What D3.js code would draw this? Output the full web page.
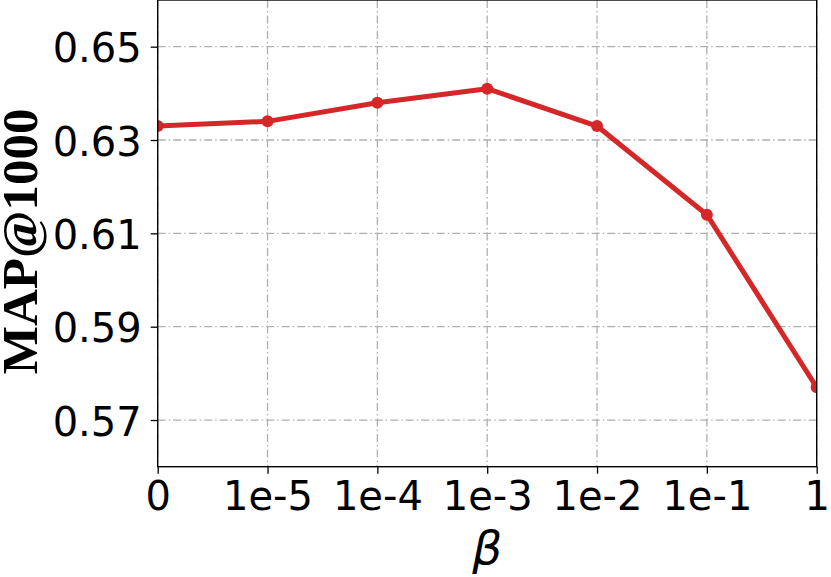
<!DOCTYPE html>
<html><head><meta charset="utf-8">
<script src="https://cdn.jsdelivr.net/npm/d3@7"></script>
<style>
html,body{margin:0;padding:0;background:#fff;}
svg{display:block;}
</style></head>
<body>
<svg id="chart" width="831" height="577"></svg>
<script>
const categories = ["0","1e-5","1e-4","1e-3","1e-2","1e-1","1"];
const mapValues = [0.633, 0.634, 0.638, 0.641, 0.633, 0.614, 0.577];
const yTicks = [0.57, 0.59, 0.61, 0.63, 0.65];
const yDomain = [0.56, 0.66];

(function () {
const svg = d3.select("#chart");
const pLeft = 157.7, pRight = 816.7, pTop = 0, pBottom = 466.7;

const x = d3.scalePoint().domain(categories).range([pLeft, pRight]);
const y = d3.scaleLinear().domain(yDomain).range([pBottom, pTop]);

// grid
const grid = svg.append("g");
grid.selectAll("line.gx").data(categories).join("line")
  .attr("x1", d => x(d)).attr("x2", d => x(d)).attr("y1", pTop).attr("y2", pBottom)
  .attr("stroke", "#b0b0b0").attr("stroke-width", 1.3).attr("stroke-dasharray", "8,3,1.5,3");
grid.selectAll("line.gy").data(yTicks).join("line")
  .attr("x1", pLeft).attr("x2", pRight).attr("y1", d => y(d)).attr("y2", d => y(d))
  .attr("stroke", "#b0b0b0").attr("stroke-width", 1.3).attr("stroke-dasharray", "8,3,1.5,3");

// line
const pts = categories.map((c, i) => [x(c), y(mapValues[i])]);
const plot = svg.append("g");
plot.append("defs").append("clipPath").attr("id", "clip")
  .append("rect").attr("x", pLeft).attr("y", pTop).attr("width", pRight - pLeft).attr("height", pBottom - pTop);
const pg = plot.append("g").attr("clip-path", "url(#clip)");
pg.append("path").attr("d", d3.line()(pts))
  .attr("fill", "none").attr("stroke", "#d62728").attr("stroke-width", 5)
  .attr("stroke-linejoin", "round");
pg.selectAll("circle").data(pts).join("circle")
  .attr("cx", d => d[0]).attr("cy", d => d[1]).attr("r", 6).attr("fill", "#d62728");

// axes
const xAxis = d3.axisBottom(x).tickSize(7).tickPadding(5);
const yAxis = d3.axisLeft(y).tickValues(yTicks).tickFormat(d3.format(".2f")).tickSize(7).tickPadding(5);
const gx = svg.append("g").attr("transform", `translate(0,${pBottom})`).call(xAxis);
const gy = svg.append("g").attr("transform", `translate(${pLeft},0)`).call(yAxis);
[gx, gy].forEach(g => {
  g.select(".domain").remove();
  g.selectAll(".tick line").attr("stroke", "#000").attr("stroke-width", 1.3);
  g.selectAll(".tick text").attr("fill", "#000")
    .style("font-family", "'DejaVu Sans', sans-serif").style("font-size", "40px");
});
gx.selectAll(".tick text").attr("dy", null).attr("y", 43.5);
gy.selectAll(".tick text").attr("dy", null).attr("y", 15).attr("x", -16);

// spines
svg.append("rect").attr("x", pLeft).attr("y", pTop).attr("width", pRight - pLeft).attr("height", pBottom - pTop)
  .attr("fill", "none").attr("stroke", "#000").attr("stroke-width", 1.4);

// labels
svg.append("text")
  .attr("transform", `translate(37,${(pTop + pBottom) / 2 + 8}) rotate(-90)`)
  .attr("text-anchor", "middle")
  .style("font-family", "'Liberation Serif', 'Times New Roman', serif")
  .style("font-weight", "bold").style("font-size", "51px").attr("fill", "#000")
  .text("MAP@1000");
svg.append("text")
  .attr("x", (pLeft + pRight) / 2).attr("y", 564)
  .attr("text-anchor", "middle")
  .style("font-family", "'DejaVu Sans', sans-serif").style("font-style", "italic")
  .style("font-size", "47px").attr("fill", "#000")
  .text("β");
})();
</script>
</body></html>
